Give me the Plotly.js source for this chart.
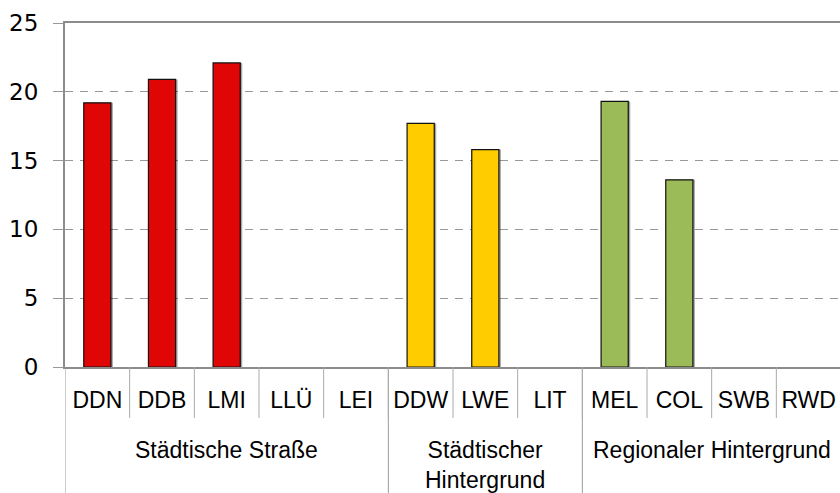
<!DOCTYPE html>
<html>
<head>
<meta charset="utf-8">
<script src="https://cdn.plot.ly/plotly-3.0.1.min.js"></script>
<style>
html,body{margin:0;padding:0;overflow:hidden;background:#fff;}
#chart{width:842px;height:493px;}
</style>
</head>
<body>
<div id="chart"></div>
<script>
// Data
const categories = ["DDN","DDB","LMI","LLÜ","LEI","DDW","LWE","LIT","MEL","COL","SWB","RWD"];
const values = [19.2, 20.9, 22.1, null, null, 17.7, 15.8, null, 19.3, 13.6, null, null];
const barColors = ["#E00606","#E00606","#E00606","#E00606","#E00606",
                   "#FFCC00","#FFCC00","#FFCC00",
                   "#9BBB59","#9BBB59","#9BBB59","#9BBB59"];
const groupNames = ["Städtische Straße", "Städtischer<br>Hintergrund", "Regionaler Hintergrund"];
const groupSizes = [5, 3, 4];
const yTicks = [0, 5, 10, 15, 20, 25];

const barWidth = 0.42;
const catPx = 776 / categories.length;
const shadowShift = 2 / catPx;

const idx = categories.map((c, i) => i);

const shadow = {
  type: "bar",
  x: idx,
  y: values,
  width: barWidth,
  offset: -barWidth / 2 + shadowShift,
  marker: {color: "rgba(0,0,0,0.35)", line: {width: 0}},
  hoverinfo: "skip",
  showlegend: false
};
const bars = {
  type: "bar",
  x: idx,
  y: values,
  width: barWidth,
  offset: -barWidth / 2,
  marker: {color: barColors, line: {color: "#111", width: 1.2}},
  showlegend: false
};

// group dividers and labels
const shapes = [];
const annotations = [];
let start = 0;
const bottomY = -0.40;
shapes.push({type: "line", xref: "x", yref: "paper", x0: -0.5, x1: -0.5, y0: 0, y1: bottomY,
             line: {color: "#999", width: 1}});
groupSizes.forEach((n, g) => {
  const end = start + n - 1;
  shapes.push({type: "line", xref: "x", yref: "paper", x0: end + 0.5, x1: end + 0.5, y0: 0, y1: bottomY,
               line: {color: "#999", width: 1}});
  annotations.push({
    xref: "x", yref: "paper", x: (start + end) / 2, y: -0.198,
    xanchor: "center", yanchor: "top", showarrow: false,
    text: groupNames[g], align: "center",
    font: {family: "Liberation Sans, Arial, sans-serif", size: 23, color: "#000"}
  });
  start += n;
});

// category boundary ticks
for (let i = 0; i < categories.length - 1; i++) {
  shapes.push({type: "line", xref: "x", yref: "paper", x0: i + 0.5, x1: i + 0.5, y0: 0, y1: -51 / 344,
               line: {color: "#aaa", width: 1}});
}

const layout = {
  width: 842, height: 493,
  margin: {l: 65, r: 1, t: 23, b: 126},
  paper_bgcolor: "#fff", plot_bgcolor: "#fff",
  barmode: "overlay",
  showlegend: false,
  xaxis: {
    type: "linear",
    range: [-0.5, categories.length - 0.5],
    tickmode: "array",
    tickvals: idx,
    ticktext: categories,
    showgrid: false, zeroline: false,
    ticks: "",
    showline: true, linecolor: "#8c8c8c", linewidth: 2, mirror: true,
    tickfont: {family: "Liberation Sans, Arial, sans-serif", size: 23, color: "#000"},
    ticklabelstandoff: 11
  },
  yaxis: {
    range: [0, 25],
    tickmode: "array",
    tickvals: yTicks,
    ticktext: yTicks.map(String),
    ticks: "outside", ticklen: 10, tickcolor: "#999", tickwidth: 1,
    showgrid: true, gridcolor: "#999", gridwidth: 1.2, griddash: "8px,7px",
    zeroline: false,
    showline: true, linecolor: "#8c8c8c", linewidth: 2, mirror: true,
    tickfont: {family: "DejaVu Sans, sans-serif", size: 23, color: "#000"},
    ticklabelstandoff: 10
  },
  shapes: shapes,
  annotations: annotations
};

Plotly.newPlot("chart", [shadow, bars], layout, {displayModeBar: false, staticPlot: true});
</script>
</body>
</html>
